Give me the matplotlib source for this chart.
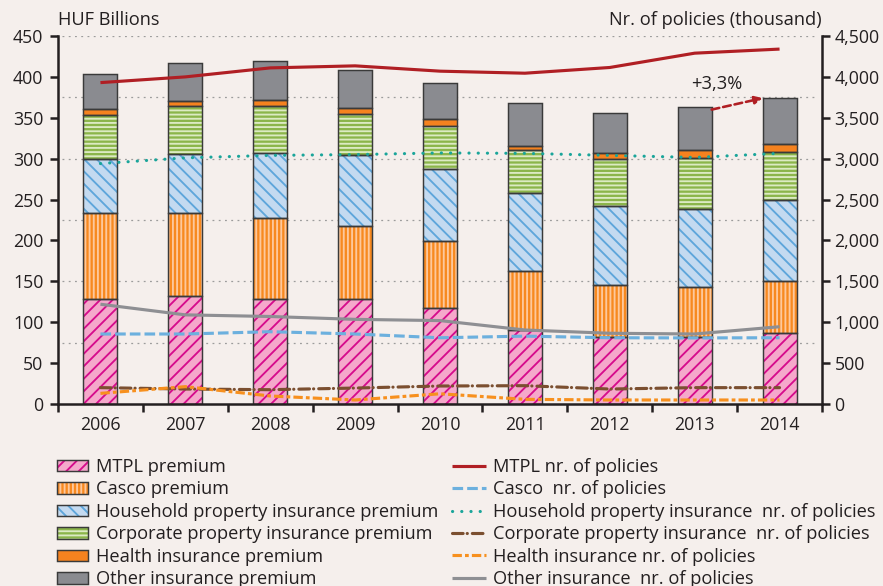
import numpy as np
import matplotlib
matplotlib.use("Agg")
import matplotlib.pyplot as plt
from matplotlib.patches import Patch
from matplotlib.lines import Line2D
from matplotlib.ticker import FuncFormatter, MultipleLocator

plt.rcParams['font.family'] = ['Open Sans', 'DejaVu Sans']
plt.rcParams['hatch.linewidth'] = 1.8

years = ['2006', '2007', '2008', '2009', '2010', '2011', '2012', '2013', '2014']

# Premiums (HUF billions), stacked
mtpl_prem = [128, 132, 128, 128, 117, 90, 82, 82, 87]
casco_prem = [105, 101, 99, 90, 82, 73, 63.5, 61, 64]
household_prem = [67, 73, 80, 87, 88, 95, 97, 95, 99]
corporate_prem = [53, 58, 57, 50, 53, 52, 56.5, 63, 58]
health_prem = [8, 6, 8, 7, 8, 6, 7.5, 9, 10]
other_prem = [43, 47, 47, 46, 45, 52, 49, 53, 56]

# Number of policies (thousand)
mtpl_pol = [3930, 4000, 4110, 4135, 4070, 4045, 4115, 4290, 4340]
casco_pol = [856, 856, 884, 856, 810, 830, 810, 808, 810]
household_pol = [2940, 3010, 3040, 3050, 3070, 3065, 3040, 3015, 3065]
corporate_pol = [200, 183, 175, 195, 220, 224, 183, 200, 200]
health_pol = [130, 212, 98, 49, 125, 57, 49, 49, 49]
other_pol = [1220, 1090, 1070, 1035, 1020, 905, 865, 856, 945]

growth_label = '+3,3%'

bar_labels = ['MTPL premium', 'Casco premium', 'Household property insurance premium',
              'Corporate property insurance premium', 'Health insurance premium',
              'Other insurance premium']
line_labels = ['MTPL nr. of policies', 'Casco  nr. of policies',
               'Household property insurance  nr. of policies',
               'Corporate property insurance  nr. of policies',
               'Health insurance nr. of policies', 'Other insurance  nr. of policies']

BG = '#F5EFEC'
DARK = '#231F20'
EDGE = '#3a3a3a'

bar_styles = [
    dict(fill='#F5A8CB', hatch='//', hc='#D60C8C'),
    dict(fill='#F7891F', hatch='|||', hc='#FDC89C'),
    dict(fill='#C4DAF0', hatch='\\\\', hc='#5EA6DB'),
    dict(fill='#8BB54A', hatch='---', hc='#DCEAC3'),
    dict(fill='#F5821F', hatch=None, hc=None),
    dict(fill='#8A8B90', hatch=None, hc=None),
]
line_styles = [
    dict(color='#B01F24', ls='-', cap='butt'),
    dict(color='#6CB0DE', ls=(0, (3.4, 1.3)), cap='butt'),
    dict(color='#1AA59A', ls=(0, (0.05, 2.9)), cap='round'),
    dict(color='#7B4F30', ls=(0, (3.4, 1.3, 0.05, 1.6)), cap='round'),
    dict(color='#F7901E', ls=(0, (3.0, 1.0, 1.2, 1.0)), cap='butt'),
    dict(color='#8E8F93', ls='-', cap='butt'),
]

DPI = 75
fig = plt.figure(figsize=(883 / DPI, 586 / DPI), dpi=DPI, facecolor=BG)
ax = fig.add_axes([58 / 883, (586 - 404) / 586, (822 - 58) / 883, (404 - 36) / 586])
ax.set_facecolor(BG)
ax2 = ax.twinx()

x = np.arange(len(years))
W = 0.4
series = [mtpl_prem, casco_prem, household_prem, corporate_prem, health_prem, other_prem]
bottom = np.zeros(len(years))
bar_handles = []
for vals, st in zip(series, bar_styles):
    vals = np.asarray(vals, dtype=float)
    ax.bar(x, vals, W, bottom=bottom, color=st['fill'], edgecolor='none', linewidth=0, zorder=2)
    if st['hatch']:
        ax.bar(x, vals, W, bottom=bottom, color='none', edgecolor=st['hc'], hatch=st['hatch'],
               linewidth=0, zorder=2.1)
    ax.bar(x, vals, W, bottom=bottom, color='none', edgecolor=EDGE, linewidth=1.4, zorder=2.2)
    bottom = bottom + vals
    parts = [Patch(facecolor=st['fill'], edgecolor='none', linewidth=0)]
    if st['hatch']:
        parts.append(Patch(facecolor='none', edgecolor=st['hc'], hatch=st['hatch'], linewidth=0))
    parts.append(Patch(facecolor='none', edgecolor=EDGE, linewidth=1.4))
    bar_handles.append(tuple(parts))
totals = bottom

# grid lines
for gy in np.arange(75, 451, 75):
    ax.plot([-0.45, 8.45], [gy, gy], color='#9C9C9C', lw=1.2, ls=(0, (1.5, 3.5)), zorder=1)

ax.set_xlim(-0.5, 8.5)
ax.set_ylim(0, 450)
ax.yaxis.set_major_locator(MultipleLocator(50))
ax.set_xticks(np.arange(-0.5, 9, 1))
ax.set_xticklabels([])
ax.set_xticks(x, minor=True)
ax.set_xticklabels(years, minor=True)
ax.tick_params(axis='x', which='major', direction='out', length=8, width=2.4, color=DARK)
ax.tick_params(axis='x', which='minor', length=0, pad=12, labelsize=17, labelcolor=DARK)
ax.tick_params(axis='y', direction='out', length=8, width=2.4, color=DARK, pad=6,
               labelsize=17, labelcolor=DARK)
for s in ['top', 'right']:
    ax.spines[s].set_visible(False)
for s in ['left', 'bottom']:
    ax.spines[s].set_linewidth(2.4)
    ax.spines[s].set_color(DARK)

pol = [mtpl_pol, casco_pol, household_pol, corporate_pol, health_pol, other_pol]
line_handles = []
for vals, st in zip(pol, line_styles):
    ax2.plot(x, vals, color=st['color'], lw=3, ls=st['ls'], dash_capstyle=st['cap'],
             solid_capstyle='butt', zorder=3)
    line_handles.append(Line2D([], [], color=st['color'], lw=3, ls=st['ls'],
                               dash_capstyle=st['cap'], solid_capstyle='butt'))
ax2.set_ylim(0, 4500)
ax2.yaxis.set_major_locator(MultipleLocator(500))
ax2.yaxis.set_major_formatter(FuncFormatter(lambda v, p: f'{int(v):,}'))
ax2.tick_params(axis='y', direction='out', length=8, width=2.4, color=DARK, pad=4,
                labelsize=17, labelcolor=DARK)
for s in ['top', 'left', 'bottom']:
    ax2.spines[s].set_visible(False)
ax2.spines['right'].set_linewidth(2.4)
ax2.spines['right'].set_color(DARK)

# growth arrow between the last two bars
ax.annotate('', xy=(x[-1] - W / 2, totals[-1]), xytext=(x[-2] + W / 2, totals[-2] - 3),
            arrowprops=dict(arrowstyle='-|>,head_length=0.6,head_width=0.3', color='#B01F24',
                            lw=2.5, ls=(0, (3, 1.5)), shrinkA=0, shrinkB=0), zorder=4)
ax.text((x[-2] + x[-1]) / 2 - 0.24, totals[-1] + 17, growth_label, ha='center', va='center',
        fontsize=17.5, color=DARK)

fig.text(58 / 883, 1 - 20 / 586, 'HUF Billions', ha='left', va='center', fontsize=17.5, color=DARK)
fig.text(822 / 883, 1 - 20 / 586, 'Nr. of policies (thousand)', ha='right', va='center',
         fontsize=17.5, color=DARK)

leg_kw = dict(frameon=False, fontsize=17.5, borderpad=0, borderaxespad=0, labelspacing=0.245,
              labelcolor=DARK)
fig.legend(bar_handles, bar_labels, loc='upper left', bbox_to_anchor=(57 / 883, 1 - 458 / 586),
           handlelength=1.7, handleheight=0.6, handletextpad=0.42, **leg_kw)
fig.legend(line_handles, line_labels, loc='upper left', bbox_to_anchor=(452 / 883, 1 - 458 / 586),
           handlelength=1.85, handletextpad=0.4, **leg_kw)

fig.savefig('out.png', dpi=DPI, facecolor=BG)
